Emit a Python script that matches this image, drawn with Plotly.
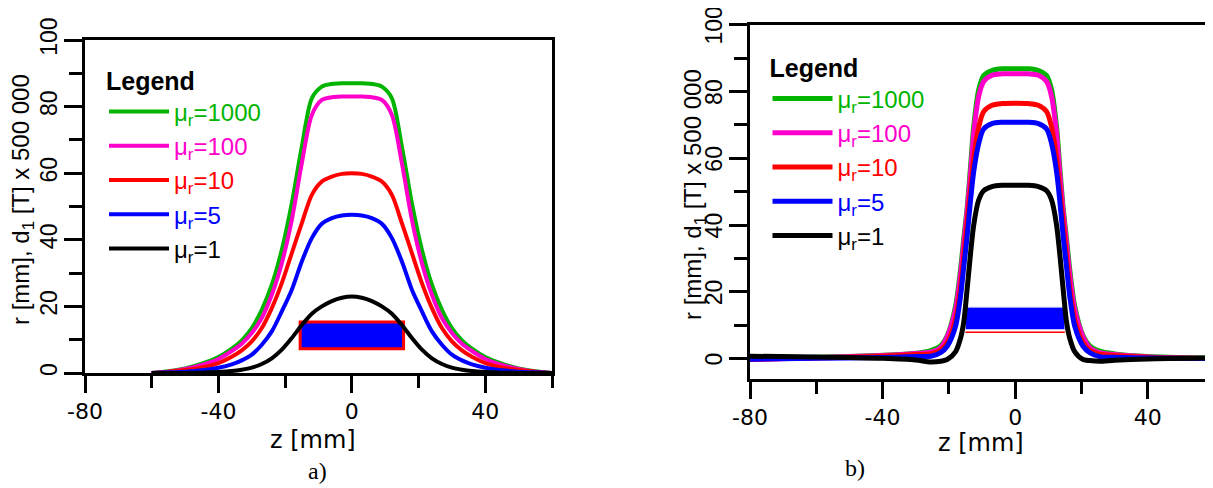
import plotly.graph_objects as go

# ---------------- data: panel a) ----------------
z_a = [-60, -55, -50, -45, -40, -36, -33, -30, -27, -24, -21, -18, -15, -12, -9, -6, -3, 0,
       3, 6, 9, 12, 15, 18, 21, 24, 27, 30, 33, 36, 40, 45, 50, 55, 60]
a_mu1000 = [0, 0.5, 1.4, 2.8, 4.8, 7.3, 9.8, 13.5, 19.0, 26.5, 37.0, 51.0, 68.0, 82.5, 86.0, 86.8, 87.0, 87.0,
            87.0, 86.8, 86.0, 82.5, 68.0, 51.0, 37.0, 26.5, 19.0, 13.5, 9.8, 7.3, 4.8, 2.8, 1.4, 0.5, 0]
a_mu100 = [0, 0.4, 1.2, 2.4, 4.2, 6.6, 8.8, 12.0, 16.5, 23.5, 33.0, 46.0, 63.0, 77.5, 82.0, 82.8, 83.0, 83.0,
           83.0, 82.8, 82.0, 77.5, 63.0, 46.0, 33.0, 23.5, 16.5, 12.0, 8.8, 6.6, 4.2, 2.4, 1.2, 0.4, 0]
a_mu10 = [0, 0.4, 0.9, 1.7, 3.0, 4.9, 6.8, 9.5, 13.5, 19.5, 27.0, 36.0, 45.0, 53.5, 57.5, 59.0, 59.8, 60.0,
          59.8, 59.0, 57.5, 53.5, 45.0, 36.0, 27.0, 19.5, 13.5, 9.5, 6.8, 4.9, 3.0, 1.7, 0.9, 0.4, 0]
a_mu5 = [0, 0.2, 0.4, 0.8, 1.6, 2.6, 3.8, 5.5, 8.5, 12.5, 18.5, 25.0, 33.5, 40.5, 44.8, 46.5, 47.3, 47.5,
         47.3, 46.5, 44.8, 40.5, 33.5, 25.0, 18.5, 12.5, 8.5, 5.5, 3.8, 2.6, 1.6, 0.8, 0.4, 0.2, 0]
a_mu1 = [0, 0, 0, 0.1, 0.3, 0.6, 1.0, 1.6, 2.7, 4.4, 7.0, 10.5, 14.4, 17.8, 20.0, 21.6, 22.6, 23.0,
         22.6, 21.6, 20.0, 17.8, 14.4, 10.5, 7.0, 4.4, 2.7, 1.6, 1.0, 0.6, 0.3, 0.1, 0, 0, 0]
coil_a_z = [-15.5, 15.5]
coil_a_r = [7.3, 15.3]

# ---------------- data: panel b) ----------------
z_b = [-80, -60, -40, -30, -25.5, -22.5, -20.5, -18, -16.5, -15.5, -14.5, -13.5, -12.5, -11, -9.5, -7, -4, 0,
       4, 7, 9.5, 11, 12.5, 13.5, 14.5, 15.5, 16.5, 18, 20.5, 22.5, 25.5, 30, 40, 60]
b_mu1000 = [-0.1, 0.4, 1.0, 1.6, 2.4, 3.8, 6.8, 15.6, 26.5, 36.0, 45.0, 57.0, 69.5, 80.5, 84.8, 86.3, 86.8, 86.8,
            86.8, 86.3, 84.8, 80.5, 69.5, 57.0, 45.0, 36.0, 26.5, 15.6, 6.8, 3.8, 2.2, 1.4, 0.6, 0.1]
b_mu100 = [-0.3, 0.3, 0.9, 1.5, 1.9, 3.3, 6.5, 14.6, 25.0, 34.5, 44.0, 55.0, 67.5, 78.5, 83.0, 84.9, 85.3, 85.3,
           85.3, 84.9, 83.0, 78.5, 67.5, 55.0, 44.0, 34.5, 25.0, 14.6, 6.5, 3.3, 1.8, 1.2, 0.5, 0.0]
b_mu10 = [-0.2, 0.2, 0.7, 1.2, 1.4, 2.5, 4.7, 11.6, 21.0, 30.5, 40.6, 50.4, 60.0, 69.3, 74.0, 75.9, 76.4, 76.5,
          76.4, 75.9, 74.0, 69.3, 60.0, 50.4, 40.6, 30.5, 21.0, 11.6, 4.7, 2.5, 1.3, 0.9, 0.4, 0.0]
b_mu5 = [-0.2, 0.1, 0.3, 0.6, 0.7, 1.8, 3.7, 9.6, 18.5, 27.5, 36.5, 47.0, 56.0, 64.4, 68.8, 70.4, 70.8, 70.8,
         70.8, 70.4, 68.8, 64.4, 56.0, 47.0, 36.5, 27.5, 18.5, 9.6, 3.7, 1.8, 0.6, 0.4, 0.2, 0.0]
b_mu1 = [0.7, 0.5, 0.1, -0.4, -1.0, -0.8, -0.3, 2.0, 6.0, 11.0, 20.6, 31.0, 40.0, 47.5, 50.3, 51.5, 51.9, 51.9,
         51.9, 51.5, 50.3, 47.5, 40.0, 31.0, 20.6, 11.0, 6.0, 2.0, -0.3, -0.6, -0.8, -0.5, -0.1, 0.2]
coil_b_z = [-15.0, 15.0]
coil_b_r = [8.7, 15.4]
coil_b_redline = 7.9

series_names = ["1000", "100", "10", "5", "1"]
series_colors = ["#00b400", "#ff00cc", "#ff0000", "#0000ff", "#000000"]
x_ticks = [-80, -40, 0, 40]
x_ticktext = ["-80", "-40", "0", "40"]
y_ticks = [0, 20, 40, 60, 80, 100]

# page has an 8px body margin: work in page pixels and convert
OFF = 8
W, H = 1213 - OFF, 488 - OFF
def fx(px):
    return (px - OFF) / W
def fy(py):
    return 1 - (py - OFF) / H

fig = go.Figure()

def legend_name(n, c):
    return f'<span style="color:{c}">\u03bc<sub>r</sub>={n}</span>'

a_vals = [a_mu1000, a_mu100, a_mu10, a_mu5, a_mu1]
b_vals = [b_mu1000, b_mu100, b_mu10, b_mu5, b_mu1]

for n, c, v in zip(series_names, series_colors, a_vals):
    fig.add_trace(go.Scatter(x=z_a, y=v, mode="lines", name=legend_name(n, c),
                             line=dict(color=c, width=4, shape="spline", smoothing=0.8),
                             xaxis="x", yaxis="y", legend="legend"))
for n, c, v in zip(series_names, series_colors, b_vals):
    fig.add_trace(go.Scatter(x=z_b, y=v, mode="lines", name=legend_name(n, c),
                             line=dict(color=c, width=5, shape="spline", smoothing=0.8),
                             xaxis="x2", yaxis="y2", legend="legend2"))

# coils
fig.add_shape(type="rect", xref="x", yref="y", x0=coil_a_z[0], x1=coil_a_z[1], y0=coil_a_r[0], y1=coil_a_r[1],
              fillcolor="#0000ff", line=dict(color="#ff0000", width=3), layer="below")
fig.add_shape(type="rect", xref="x2", yref="y2", x0=coil_b_z[0], x1=coil_b_z[1], y0=coil_b_r[0], y1=coil_b_r[1],
              fillcolor="#0000ff", line=dict(color="#c8c8ff", width=1), layer="below")
fig.add_shape(type="line", xref="x2", yref="y2", x0=coil_b_z[0], x1=coil_b_z[1], y0=coil_b_redline, y1=coil_b_redline,
              line=dict(color="#ff0000", width=1.5), layer="below")

tickfont_x = dict(family="DejaVu Sans", size=22, color="black")
tickfont_y = dict(family="Liberation Sans, Arial", size=23, color="black")

def xaxis_cfg(domain, rng):
    return dict(domain=domain, range=rng, tickmode="array", tickvals=x_ticks, ticktext=x_ticktext,
                ticks="outside", ticklen=17, tickwidth=3, tickcolor="black",
                minor=dict(dtick=20, tick0=0, ticks="outside", ticklen=12, tickwidth=3, tickcolor="black"),
                showline=True, linewidth=3, linecolor="black", showgrid=False, zeroline=False,
                tickfont=tickfont_x, automargin=False, ticklabeloverflow="allow")

def yaxis_cfg(domain, rng, anchor, mirror, shift):
    return dict(domain=domain, range=rng, anchor=anchor, tickmode="array", tickvals=y_ticks,
                ticks="outside", ticklen=18, tickwidth=3, tickcolor="black", tickangle=-90,
                ticklabelstandoff=-2, ticklabeloverflow="allow", ticklabelshift=shift,
                minor=dict(dtick=10, tick0=0, ticks="outside", ticklen=13, tickwidth=3, tickcolor="black"),
                showline=True, linewidth=3, linecolor="black", mirror=mirror, showgrid=False, zeroline=False,
                tickfont=tickfont_y, automargin=False)

xa = xaxis_cfg([fx(85), fx(552)], [-80, 60]); xa.update(anchor="y", mirror=True)
xb = xaxis_cfg([fx(750), 1.0], [-80, 59.7]); xb.update(anchor="y2", mirror=True)
ya = yaxis_cfg([fy(373), fy(40)], [0, 100], "x", True, 0)
yb = yaxis_cfg([fy(378.6), fy(24.8)], [-6, 100], "x2", False, 4)

legend_common = dict(bgcolor="rgba(0,0,0,0)", borderwidth=0, itemwidth=60,
                     font=dict(family="Liberation Sans, Arial", size=24),
                     title=dict(text="<b>Legend</b>", font=dict(family="Liberation Sans, Arial", size=25, color="black")),
                     xanchor="left", yanchor="top", itemclick=False, itemdoubleclick=False)
leg_a = dict(legend_common, x=fx(104), y=fy(57))
leg_b = dict(legend_common, x=fx(767.5), y=fy(44))

ytitle = "r [mm], d<sub>1</sub> [T] x 500 000"
annotations = [
    dict(text=ytitle, x=fx(22), y=fy(200), xref="paper", yref="paper", textangle=-90, showarrow=False,
         font=dict(family="Liberation Sans, Arial", size=24, color="black"), xanchor="center", yanchor="middle"),
    dict(text=ytitle, x=fx(694), y=fy(195), xref="paper", yref="paper", textangle=-90, showarrow=False,
         font=dict(family="Liberation Sans, Arial", size=24, color="black"), xanchor="center", yanchor="middle"),
    dict(text="z [mm]", x=fx(313), y=fy(440), xref="paper", yref="paper", showarrow=False,
         font=dict(family="DejaVu Sans", size=24, color="black"), xanchor="center", yanchor="middle"),
    dict(text="z [mm]", x=fx(981), y=fy(443), xref="paper", yref="paper", showarrow=False,
         font=dict(family="DejaVu Sans", size=24, color="black"), xanchor="center", yanchor="middle"),
    dict(text="a)", x=fx(318), y=fy(471), xref="paper", yref="paper", showarrow=False,
         font=dict(family="Liberation Serif, Times New Roman", size=24, color="black"), xanchor="center", yanchor="middle"),
    dict(text="b)", x=fx(855), y=fy(468), xref="paper", yref="paper", showarrow=False,
         font=dict(family="Liberation Serif, Times New Roman", size=24, color="black"), xanchor="center", yanchor="middle"),
]

fig.update_layout(width=W, height=H, margin=dict(l=0, r=0, t=0, b=0),
                  paper_bgcolor="white", plot_bgcolor="white",
                  xaxis=xa, yaxis=ya, xaxis2=xb, yaxis2=yb,
                  legend=leg_a, legend2=leg_b, showlegend=True,
                  annotations=annotations)

fig.write_html("out.html")
